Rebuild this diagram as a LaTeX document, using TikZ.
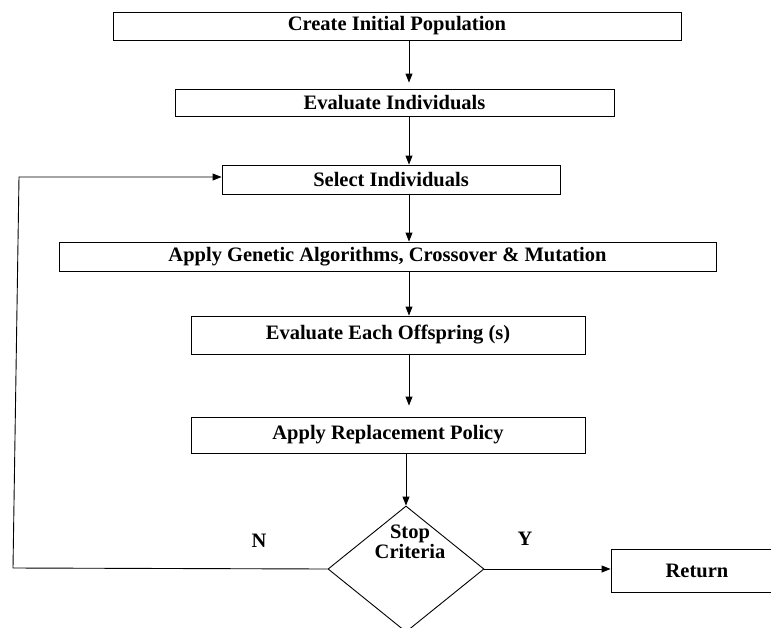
\documentclass[tikz,border=0pt]{standalone}
\usepackage{fontspec}
\setmainfont{Liberation Serif}
\usetikzlibrary{shapes.geometric,arrows.meta}

\begin{document}
\begin{tikzpicture}[x=1pt, y=-1pt, line width=0.9pt,
                        >={Triangle[length=9pt,width=7pt]},
                        every node/.style={font=\bfseries\fontsize{20.5}{20}\selectfont},
                        stepbox/.style={draw, inner sep=0pt}]
                        \useasboundingbox (0,0) rectangle (771,627);

                        \foreach \n/\x/\y/\w/\h/\txt in {%
                            init/397/26/568/28/{Create Initial Population},
                            evalind/394.5/102.5/439/27/{Evaluate Individuals},
                            select/391/179.5/338/29/{Select Individuals},
                            apply/387.5/256.5/657/29/{Apply Genetic Algorithms, Crossover \& Mutation},
                            evalsp/388/335/394/38/{Evaluate Each Offspring (s)},
                            replace/388/435/394/36/{Apply Replacement Policy},
                            return/697/570.5/172/43/{Return}%
                            }{
                            \node[stepbox, minimum width=\w pt, minimum height=\h pt] (\n) at (\x,\y) {\txt};
                        }

                        \node[draw, diamond, inner sep=0pt, minimum width=156pt, minimum height=126pt] (stop) at (406,569) {};
                        \node[align=center] (stoptext) at (410,542) {Stop\\Criteria};
                        \node (no) at (259,541) {N};
                        \node (yes) at (525,539) {Y};

                        \coordinate (col) at (409,0);
                        \coordinate (lb) at (13,568);
                        \coordinate (lt) at (19,177);

                        \foreach \u/\v/\s in {%
                            init/evalind/6,
                            evalind/select/0,
                            select/apply/0,
                            apply/evalsp/0,
                            evalsp/replace/11%
                            }{
                            \draw[->, shorten >=\s pt] (\u.south -| col) -- (\v.north -| col);
                        }
                        \draw[->] (replace.south -| stop.north) -- (stop.north);
                        \draw[->] (stop.east) -- (stop.east -| return.west);
                        \draw[->] (stop.west) -- (lb) -- (lt) -- (lt -| select.west);

                    \end{tikzpicture}
\end{document}
